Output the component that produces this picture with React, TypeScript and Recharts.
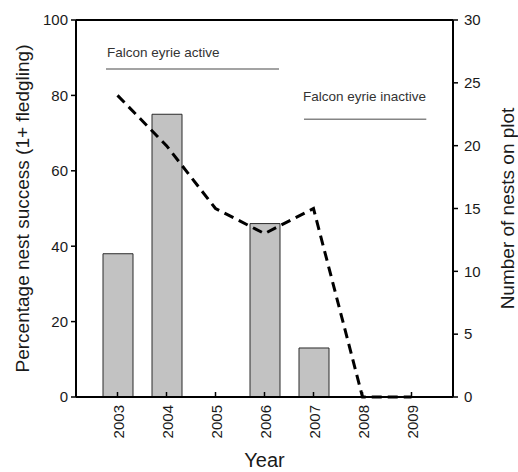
import {
  ComposedChart,
  Bar,
  Line,
  XAxis,
  YAxis,
  ReferenceLine,
  ReferenceDot,
} from "recharts";

const YEARS = ["2003", "2004", "2005", "2006", "2007", "2008", "2009"];
const NEST_SUCCESS = [38, 75, 0, 46, 13, 0, 0];
const NESTS_ON_PLOT = [24, 20, 15, 13, 15, 0, 0];

const LEFT_TICKS = [0, 20, 40, 60, 80, 100];
const RIGHT_TICKS = [0, 5, 10, 15, 20, 25, 30];

// annotation periods, x in year-index units (0 = 2003), y in left-axis units
const PERIOD_LABELS = ["Falcon eyrie active", "Falcon eyrie inactive"];
const PERIOD_START = [-0.235, 3.806];
const PERIOD_END = [3.296, 6.302];
const PERIOD_LINE_Y = [87, 73.7];
const PERIOD_TEXT_X = [-0.214, 3.786];
const PERIOD_TEXT_Y = [90.3, 78.4];

const data = YEARS.map((year, i) => ({
  year,
  idx: i,
  success: NEST_SUCCESS[i],
  nests: NESTS_ON_PLOT[i],
}));

const FONT = '"Liberation Sans", Arial, sans-serif';
const INK = "#1a1a1a";

const YearTick = ({ x, y, payload }: any) => (
  <text
    transform={`translate(${x + 6},${y}) rotate(-90)`}
    textAnchor="end"
    fontSize={15}
    fontFamily={FONT}
    fill={INK}
  >
    {payload.value}
  </text>
);

const LeftTitle = ({ viewBox }: any) => (
  <text
    transform={`translate(${viewBox.x + 22},${viewBox.y + viewBox.height / 2}) rotate(-90)`}
    textAnchor="middle"
    dominantBaseline="central"
    fontSize={19}
    fontFamily={FONT}
    fill={INK}
  >
    Percentage nest success (1+ fledgling)
  </text>
);

const RightTitle = ({ viewBox }: any) => (
  <text
    transform={`translate(${viewBox.x + 54},${viewBox.y + viewBox.height / 2}) rotate(-90)`}
    textAnchor="middle"
    dominantBaseline="central"
    fontSize={19}
    fontFamily={FONT}
    fill={INK}
  >
    Number of nests on plot
  </text>
);

const BottomTitle = ({ viewBox }: any) => (
  <text
    x={viewBox.x + viewBox.width / 2}
    y={viewBox.y + viewBox.height - 5}
    textAnchor="middle"
    fontSize={20}
    fontFamily={FONT}
    fill={INK}
  >
    Year
  </text>
);

export default function App() {
  return (
    <div style={{ position: "absolute", left: 0, top: 0, background: "#fff" }}>
      <ComposedChart
        width={518}
        height={472}
        data={data}
        margin={{ top: 20, right: 0, bottom: 0, left: 0 }}
        style={{ fontFamily: FONT }}
      >
        <XAxis
          xAxisId="cat"
          dataKey="year"
          height={75}
          padding={{ left: 17, right: 17 }}
          tickSize={-5}
          tickMargin={13}
          tick={<YearTick />}
          axisLine={{ stroke: "#000", strokeWidth: 2 }}
          tickLine={{ stroke: "#000", strokeWidth: 1.5 }}
          label={<BottomTitle />}
        />
        <XAxis
          xAxisId="num"
          dataKey="idx"
          type="number"
          hide
          domain={[0, 6]}
          padding={{ left: 41.5, right: 41.5 }}
        />
        <YAxis
          yAxisId="left"
          width={76}
          domain={[0, 100]}
          ticks={LEFT_TICKS}
          tickSize={5}
          tickMargin={3}
          tick={{ fontSize: 15, fill: INK, fontFamily: FONT }}
          axisLine={{ stroke: "#000", strokeWidth: 2 }}
          tickLine={{ stroke: "#000", strokeWidth: 1.5 }}
          label={<LeftTitle />}
        />
        <YAxis
          yAxisId="right"
          orientation="right"
          width={65}
          domain={[0, 30]}
          ticks={RIGHT_TICKS}
          tickSize={5}
          tickMargin={6}
          tick={{ fontSize: 15, fill: INK, fontFamily: FONT }}
          axisLine={{ stroke: "#000", strokeWidth: 2 }}
          tickLine={{ stroke: "#000", strokeWidth: 1.5 }}
          label={<RightTitle />}
        />
        <ReferenceLine
          xAxisId="cat"
          yAxisId="left"
          y={100}
          stroke="#000"
          strokeWidth={2}
        />
        <Bar
          xAxisId="cat"
          yAxisId="left"
          dataKey="success"
          barSize={30}
          fill="#c2c2c2"
          stroke="#2a2a2a"
          strokeWidth={1}
          isAnimationActive={false}
        />
        <Line
          xAxisId="cat"
          yAxisId="right"
          dataKey="nests"
          type="linear"
          stroke="#000"
          strokeWidth={3}
          strokeDasharray="10 6"
          dot={false}
          activeDot={false}
          isAnimationActive={false}
        />
        {PERIOD_LABELS.map((label, i) => (
          <ReferenceLine
            key={`seg-${label}`}
            xAxisId="num"
            yAxisId="left"
            ifOverflow="visible"
            segment={[
              { x: PERIOD_START[i], y: PERIOD_LINE_Y[i] },
              { x: PERIOD_END[i], y: PERIOD_LINE_Y[i] },
            ]}
            stroke="#858585"
            strokeWidth={1.5}
          />
        ))}
        {PERIOD_LABELS.map((label, i) => (
          <ReferenceDot
            key={`txt-${label}`}
            xAxisId="num"
            yAxisId="left"
            ifOverflow="visible"
            x={PERIOD_TEXT_X[i]}
            y={PERIOD_TEXT_Y[i]}
            r={0}
            fill="none"
            stroke="none"
            label={({ viewBox }: any) => (
              <text
                x={viewBox.x}
                y={viewBox.y}
                fontSize={13.5}
                fontFamily={FONT}
                fill="#333"
              >
                {label}
              </text>
            )}
          />
        ))}
      </ComposedChart>
    </div>
  );
}
